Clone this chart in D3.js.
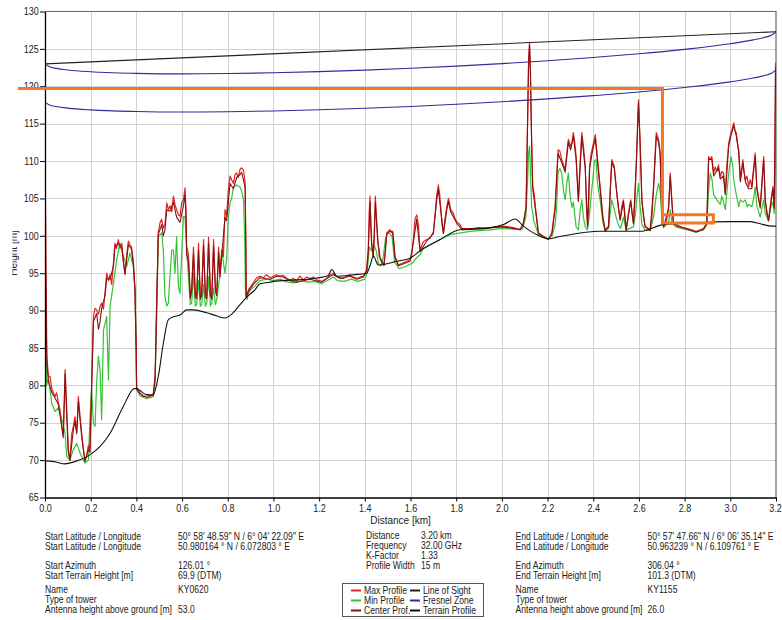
<!DOCTYPE html>
<html>
<head>
<meta charset="utf-8">
<script src="https://cdn.jsdelivr.net/npm/d3@7"></script>
<style>
  html, body { margin: 0; padding: 0; background: #fff; }
  svg { display: block; font-family: "Liberation Sans", Arial, sans-serif; }
</style>
</head>
<body>
<svg id="chart" width="782" height="620"></svg>
<script>
// ---- Axis ticks ----
const heightTicks = [65, 70, 75, 80, 85, 90, 95, 100, 105, 110, 115, 120, 125, 130];
const distanceTicks = [0, 0.2, 0.4, 0.6, 0.8, 1.0, 1.2, 1.4, 1.6, 1.8, 2.0, 2.2, 2.4, 2.6, 2.8, 3.0, 3.2];

// ---- Line of sight and Fresnel zone boundaries [km, m] ----
const lineOfSight = [[0, 123.0], [3.2, 127.29]];
const fresnelUpper = [[0,123.0],[0.02,122.6],[0.05,122.39],[0.1,122.18],[0.2,121.94],[0.4,121.73],[0.6,121.66],[0.8,121.7],[1.0,121.8],[1.2,121.96],[1.4,122.16],[1.6,122.4],[1.8,122.69],[2.0,123.03],[2.2,123.41],[2.4,123.85],[2.6,124.34],[2.8,124.94],[3.0,125.69],[3.1,126.2],[3.15,126.54],[3.18,126.83],[3.2,127.29]];
const fresnelLower = [[0,117.85],[0.02,117.5],[0.05,117.29],[0.1,117.08],[0.2,116.84],[0.4,116.63],[0.6,116.56],[0.8,116.6],[1.0,116.7],[1.2,116.86],[1.4,117.06],[1.6,117.3],[1.8,117.59],[2.0,117.93],[2.2,118.31],[2.4,118.75],[2.6,119.24],[2.8,119.84],[3.0,120.59],[3.1,121.1],[3.15,121.44],[3.18,121.73],[3.2,122.19]];

// ---- Terrain profile (DTM) [km, m] ----
const terrainProfile = [[0,69.9],[0.04,69.8],[0.088,69.5],[0.13,69.8],[0.197,70.7],[0.24,71.8],[0.285,73.6],[0.343,77.2],[0.387,79.5],[0.4,79.6],[0.416,79.3],[0.44,78.8],[0.473,78.7],[0.496,81.2],[0.518,85.6],[0.54,88.8],[0.565,89.2],[0.591,89.4],[0.62,90.1],[0.65,90.1],[0.708,89.7],[0.75,89.3],[0.788,89.0],[0.82,89.6],[0.854,90.8],[0.883,91.8],[0.92,92.8],[0.941,93.6],[0.985,93.8],[1.0,93.9],[1.1,94.1],[1.19,94.35],[1.24,94.7],[1.255,95.5],[1.277,94.6],[1.35,94.8],[1.408,95.0],[1.425,96.2],[1.437,97.3],[1.459,96.1],[1.54,96.6],[1.598,97.0],[1.642,98.0],[1.729,99.5],[1.817,100.8],[1.934,101.0],[2.007,101.5],[2.058,102.25],[2.094,101.3],[2.153,100.15],[2.204,99.6],[2.255,99.9],[2.43,100.6],[2.605,100.6],[2.707,101.5],[2.824,101.7],[3.0,101.9],[3.087,101.9],[3.144,101.5],[3.18,101.3],[3.2,101.3]];

// ---- Max profile (surface incl. vegetation / buildings) [km, m] ----
const maxProfile = [[0,85],[0.001,108],[0.004,98],[0.008,84],[0.015,81.2],[0.022,81.2],[0.03,79.5],[0.044,78.5],[0.051,79.0],[0.058,77.8],[0.066,76.7],[0.073,74.5],[0.08,73.5],[0.088,82.1],[0.095,77],[0.102,71.5],[0.109,70.0],[0.117,73.5],[0.124,74.5],[0.131,75.8],[0.139,73.8],[0.146,78.5],[0.153,76],[0.161,73.5],[0.168,71.5],[0.175,70.0],[0.182,70.5],[0.19,72],[0.197,71.5],[0.204,80.3],[0.212,89.2],[0.219,90.3],[0.226,90.1],[0.234,89.5],[0.241,90.5],[0.248,91.0],[0.256,90.2],[0.263,92.5],[0.27,95.0],[0.278,94.0],[0.285,94.8],[0.292,93.5],[0.3,96.5],[0.306,99.0],[0.313,98.3],[0.321,99.5],[0.328,98.3],[0.336,99.0],[0.343,96.5],[0.35,95.0],[0.358,97.5],[0.365,99.3],[0.372,98.8],[0.379,98.5],[0.387,96.5],[0.394,92.8],[0.399,85],[0.401,79.6],[0.416,78.9],[0.43,78.6],[0.445,78.4],[0.46,78.5],[0.474,78.9],[0.482,81.2],[0.489,91.5],[0.496,100.5],[0.504,101.8],[0.511,102.2],[0.518,101.0],[0.525,101.5],[0.533,104.4],[0.54,103.5],[0.547,104.0],[0.555,103.2],[0.562,105.3],[0.569,104.2],[0.576,103.5],[0.584,102.8],[0.591,102.6],[0.599,104.5],[0.606,104.8],[0.613,106.4],[0.617,103.5],[0.62,98.6],
[0.628,97.5],[0.636,92],[0.642,93],[0.65,98.5],[0.658,92.3],[0.664,92],[0.672,99],[0.68,91.9],[0.686,92.3],[0.694,99.5],[0.702,92.3],[0.708,92],[0.716,99.8],[0.724,92.5],[0.73,91.9],[0.738,99.5],[0.746,93],[0.752,92.5],[0.76,98.5],[0.766,95],[0.774,98.1],[0.781,97.2],[0.788,103.5],[0.795,102.6],[0.802,106],[0.81,108],[0.817,107.5],[0.825,107],[0.832,108.2],[0.839,108.4],[0.846,107.8],[0.854,108.9],[0.861,109.1],[0.869,108.8],[0.876,107.1],[0.879,100],[0.881,91.9],[0.891,92.8],
[0.912,93.7],[0.927,94.4],[0.941,94.6],[0.956,94.4],[0.97,94.8],[0.985,94.4],[1.0,94.6],[1.014,94.8],[1.029,94.6],[1.043,94.7],[1.058,94.3],[1.073,94.1],[1.087,94.3],[1.102,93.9],[1.116,94.6],[1.131,94.1],[1.145,94.5],[1.16,94.3],[1.175,94.5],[1.189,94.1],[1.211,93.9],[1.233,94.3],[1.248,94.8],[1.263,95.0],[1.277,94.6],[1.292,94.4],[1.306,94.3],[1.32,94.6],[1.335,94.8],[1.35,94.5],[1.365,94.3],[1.38,94.5],[1.394,94.6],[1.401,95.0],[1.408,95.5],[1.415,98.1],[1.419,103],[1.423,105.3],[1.427,101],[1.43,99.0],[1.437,97.3],[1.442,99.9],[1.446,105.3],[1.45,103],[1.456,99.9],[1.463,97.3],[1.474,96.4],[1.484,96.2],[1.49,98],[1.496,100.4],[1.508,100.8],[1.516,100.6],[1.522,100.6],[1.528,99],[1.532,97.3],[1.547,96.1],[1.569,96.4],[1.584,96.6],[1.598,96.8],[1.606,97.5],[1.613,99.7],[1.62,102.3],[1.627,102.8],[1.635,101.3],[1.642,98.1],
[1.656,99.2],[1.671,99.5],[1.686,99.7],[1.7,100.5],[1.708,103],[1.715,105.5],[1.722,106.8],[1.728,105.5],[1.732,103.9],[1.738,101.5],[1.744,100.4],[1.752,102.5],[1.759,103.9],[1.766,105.0],[1.771,104.3],[1.776,103.5],[1.788,103.0],[1.795,102.3],[1.802,101.9],[1.817,101.5],[1.824,101.0],[1.861,100.9],[1.9,101.1],[1.934,101.0],[1.97,101.2],[2.007,101.3],[2.03,101.2],[2.051,101.1],[2.08,100.8],[2.094,101.7],[2.106,103.9],[2.112,114.6],[2.117,123.6],[2.121,125.8],[2.125,122.2],[2.13,113.3],[2.135,106.6],[2.141,105.7],[2.15,103],[2.16,100.4],[2.182,99.9],[2.204,99.5],[2.219,100.4],[2.233,103.9],
[2.24,108],[2.246,111.5],[2.254,111.3],[2.262,110.2],[2.27,109.5],[2.277,108.9],[2.284,111],[2.291,112.9],[2.301,112.0],[2.307,112.5],[2.313,113.8],[2.319,112.5],[2.325,110.6],[2.335,104.8],[2.343,110.2],[2.35,113.8],[2.357,112],[2.365,109.3],[2.37,104],[2.375,101.3],[2.38,104],[2.384,109.3],[2.391,111],[2.398,112.0],[2.409,113.5],[2.419,110.2],[2.43,106.6],[2.442,102.6],[2.452,100.8],[2.467,101.3],[2.474,106],[2.481,110.2],[2.492,109.3],[2.5,106.6],[2.51,103.9],[2.518,102.2],[2.525,104],[2.532,104.8],[2.538,103],[2.544,100.8],[2.554,103],[2.564,104.8],[2.57,103],[2.576,101.7],[2.583,105],[2.59,111.1],[2.594,115],[2.598,118.2],[2.602,115],[2.605,112.9],[2.613,104.8],[2.62,102.5],[2.627,101.3],[2.649,100.8],[2.657,102.5],[2.664,106.6],[2.67,110.5],[2.676,113.8],[2.686,112.9],[2.693,111.1],[2.7,103],[2.708,101.3],[2.715,101.5],[2.722,102.2],[2.73,103.9],[2.737,108.4],[2.744,104.8],[2.751,101.7],[2.766,101.3],[2.79,101.1],[2.82,100.9],[2.85,100.6],[2.87,100.8],[2.883,101.0],[2.897,101.7],[2.901,106],[2.905,110.6],[2.912,110.2],[2.919,110.6],[2.927,108.4],[2.934,109.2],[2.941,108.6],[2.948,109.5],[2.956,107.9],[2.963,108.6],[2.97,108.4],[2.978,105.7],[2.985,109.5],[2.993,112.4],[3.003,113.8],[3.01,114.5],[3.015,115.1],[3.02,114.2],[3.026,113.8],[3.031,112.5],[3.037,111.5],[3.044,107.5],[3.05,109],[3.055,110.2],[3.06,108.5],[3.066,107.5],[3.073,108],[3.08,106.6],[3.087,107.5],[3.094,106.6],[3.1,108.5],[3.109,111.1],[3.116,106.6],[3.124,105],[3.131,103.9],[3.138,107],[3.146,110.6],[3.153,104.8],[3.16,103],[3.167,102.1],[3.173,103.5],[3.178,104.8],[3.187,106.6],[3.192,103.9],[3.196,110],[3.198,123.1],[3.2,120]];

// ---- Min profile [km, m] ----
const minProfile = [[0,92],[0.003,88],[0.007,80],[0.015,81.0],[0.03,77.5],[0.044,76.5],[0.058,77.0],[0.073,75.5],[0.088,73.6],[0.095,70.5],[0.109,70.0],[0.124,71.4],[0.139,72.2],[0.153,71.0],[0.175,69.6],[0.19,70.0],[0.197,75.8],[0.204,79.4],[0.212,74.9],[0.219,74.5],[0.226,80.3],[0.234,83.9],[0.241,82.1],[0.248,75.4],[0.256,87.4],[0.263,88.3],[0.27,89.2],[0.278,80.7],[0.285,90.6],[0.3,93.7],[0.314,96.8],[0.328,99.0],[0.343,97.3],[0.358,95.9],[0.372,97.7],[0.387,95.9],[0.394,92.8],[0.399,85],[0.401,79.4],[0.416,78.6],[0.445,78.2],[0.474,78.5],[0.482,80.3],[0.489,89.2],[0.496,99.9],[0.511,100.4],[0.518,98.1],[0.525,91.9],[0.533,90.6],[0.54,91.0],[0.547,94.6],[0.555,98.1],[0.562,98.1],[0.569,95.0],[0.576,99.9],[0.584,93.2],[0.591,92.3],[0.599,98.1],[0.606,102.6],[0.613,102.6],[0.62,98.1],
[0.628,94.6],[0.636,90.8],[0.642,91.0],[0.65,95],[0.658,90.6],[0.664,90.8],[0.672,94],[0.68,90.6],[0.686,90.8],[0.694,93.5],[0.702,90.6],[0.708,91],[0.716,94.5],[0.724,90.6],[0.73,91.0],[0.738,93],[0.746,90.8],[0.752,91.5],[0.76,93.5],[0.766,94.6],[0.774,98.1],[0.781,96.4],[0.788,95.0],[0.795,96.8],[0.802,102.2],[0.81,104.5],[0.817,105],[0.825,106.5],[0.839,106.8],[0.854,106.5],[0.861,106],[0.869,104.8],[0.874,100],[0.878,92],[0.885,91.5],[0.891,92.3],
[0.9,92.8],[0.92,93.3],[0.941,94.0],[0.97,94.2],[1.0,94.0],[1.03,94.2],[1.06,93.8],[1.09,93.7],[1.12,94.0],[1.15,93.8],[1.18,93.9],[1.21,93.6],[1.24,94.1],[1.263,94.5],[1.28,94.0],[1.31,93.9],[1.34,94.2],[1.37,93.9],[1.4,94.2],[1.41,95],[1.42,98.5],[1.43,98],[1.44,98.8],[1.45,98],[1.46,96.3],[1.47,96.0],[1.48,97],[1.49,99.5],[1.5,100.4],[1.51,100.3],[1.52,99.8],[1.53,96.5],[1.55,95.6],[1.58,95.9],[1.61,96.4],[1.625,97],[1.642,97.5],
[1.656,98.3],[1.686,98.8],[1.72,99.3],[1.75,99.8],[1.78,100.2],[1.82,100.4],[1.86,100.6],[1.9,100.7],[1.95,100.8],[2.0,101.0],[2.05,100.9],[2.09,100.9],[2.105,102.5],[2.112,107],[2.117,111],[2.121,112],[2.125,109],[2.13,104],[2.14,102],[2.16,100.2],[2.2,99.6],[2.22,100.0],[2.233,101.5],
[2.24,104],[2.246,108.5],[2.254,109],[2.262,108.4],[2.27,106],[2.277,104.8],[2.284,107],[2.291,108.4],[2.3,105],[2.307,103.8],[2.313,104.5],[2.32,102.5],[2.325,101.2],[2.335,100.8],[2.343,103.5],[2.35,104.8],[2.357,102.5],[2.365,101.2],[2.375,100.8],[2.384,103],[2.391,105.5],[2.398,107.5],[2.405,110],[2.412,110.2],[2.419,107],[2.43,104.8],[2.442,101.9],[2.452,100.6],[2.467,101],[2.474,103],[2.481,104.8],[2.492,103.5],[2.5,102.5],[2.51,101.5],[2.52,101],[2.532,102.5],[2.544,100.8],[2.56,101],[2.576,101.2],[2.585,103],[2.59,104.8],[2.598,107],[2.605,104],[2.613,101.5],[2.627,100.8],[2.649,100.7],[2.664,102.5],[2.676,105.5],[2.686,107],[2.693,106],[2.7,102.5],[2.708,101.1],[2.73,101.8],[2.737,103.5],[2.744,101.9],[2.76,101.2],[2.8,100.9],[2.85,100.5],[2.883,100.8],[2.897,101.5],[2.905,106],[2.912,108.4],[2.92,107.5],[2.927,105.5],[2.941,104.8],[2.956,104.2],[2.963,105.3],[2.97,104.5],[2.978,103.5],[2.993,108.4],[3.003,110.6],[3.01,109.5],[3.015,107.5],[3.026,105.5],[3.037,103.9],[3.044,104.8],[3.055,104.5],[3.066,104.8],[3.073,103.9],[3.08,104.2],[3.094,103.9],[3.102,105],[3.109,106.5],[3.116,104],[3.131,102.5],[3.146,104.8],[3.153,103],[3.167,102],[3.178,103.9],[3.187,104.5],[3.192,103],[3.196,108],[3.2,116]];

// ---- Center profile [km, m] ----
const centerProfile = [[0,84],[0.001,98],[0.005,90],[0.008,83],[0.015,80.5],[0.03,79],[0.044,78.3],[0.058,77.5],[0.066,76],[0.08,73],[0.088,81.5],[0.095,76],[0.102,71],[0.109,70],[0.124,74],[0.131,75.2],[0.139,73.5],[0.146,77.8],[0.161,73],[0.175,69.8],[0.19,71.5],[0.197,71],[0.204,79],[0.212,88.5],[0.226,89.6],[0.234,87.5],[0.241,88.5],[0.248,90.3],[0.263,92],[0.27,94.3],[0.285,94.2],[0.3,96],[0.306,98.5],[0.321,99],[0.336,98.5],[0.35,94.8],[0.365,98.8],[0.379,98.2],[0.387,96],[0.394,92.5],[0.399,85],[0.401,79.5],[0.43,78.5],[0.474,78.7],[0.482,81],[0.489,91],[0.496,100.2],[0.511,101.5],[0.518,100],[0.525,100.8],[0.533,103.5],[0.547,103.3],[0.562,104.5],[0.576,102.5],[0.591,101.8],[0.606,104],[0.613,105.5],[0.617,103],[0.62,97.5],
[0.628,96.5],[0.636,91.6],[0.642,92.5],[0.65,97.5],[0.658,91.8],[0.664,91.6],[0.672,98],[0.68,91.5],[0.686,92],[0.694,98.7],[0.702,91.8],[0.708,91.6],[0.716,99],[0.724,92],[0.73,91.5],[0.738,98.6],[0.746,92.5],[0.752,92],[0.76,97.8],[0.766,94.5],[0.774,97.5],[0.788,102.5],[0.795,102],[0.81,107],[0.825,106.3],[0.839,107.8],[0.854,108.2],[0.861,108.5],[0.876,106.5],[0.879,99],[0.881,91.8],[0.891,92.6],
[0.912,93.5],[0.941,94.4],[0.985,94.2],[1.014,94.6],[1.043,94.5],[1.073,94.0],[1.102,93.8],[1.131,94.0],[1.16,94.2],[1.211,93.8],[1.248,94.6],[1.263,94.8],[1.292,94.3],[1.335,94.6],[1.365,94.2],[1.394,94.5],[1.408,95.3],[1.415,97.8],[1.423,104.5],[1.43,98.8],[1.437,97.1],[1.446,104.5],[1.456,99.5],[1.467,97.1],[1.484,96],[1.496,100.2],[1.508,100.6],[1.522,100.4],[1.532,97.1],[1.547,96],[1.598,96.6],[1.613,99.2],[1.627,102.2],[1.642,97.9],
[1.671,99.3],[1.7,100.3],[1.715,104.8],[1.722,106.2],[1.732,103.5],[1.744,100.3],[1.759,103.5],[1.766,104.6],[1.776,103.2],[1.802,101.7],[1.824,100.9],[1.9,101.0],[2.007,101.2],[2.08,100.8],[2.094,101.6],[2.106,103.7],[2.112,114],[2.117,123],[2.121,125.5],[2.125,121.5],[2.13,112.8],[2.135,106.3],[2.15,102.8],[2.16,100.3],[2.204,99.5],[2.219,100.3],[2.233,103.6],
[2.246,111],[2.262,109.8],[2.277,108.5],[2.291,112.5],[2.301,111.5],[2.313,113.3],[2.325,110.2],[2.335,104.6],[2.35,113.3],[2.365,109],[2.375,101.2],[2.384,109],[2.398,111.6],[2.409,113.0],[2.419,109.8],[2.43,106.3],[2.442,102.4],[2.452,100.7],[2.467,101.2],[2.481,109.8],[2.492,109],[2.51,103.7],[2.518,102.1],[2.532,104.6],[2.544,100.7],[2.564,104.6],[2.576,101.6],[2.59,110.7],[2.598,117.8],[2.605,112.5],[2.613,104.6],[2.627,101.2],[2.649,100.7],[2.664,106.3],[2.676,113.3],[2.686,112.5],[2.693,110.8],[2.7,102.9],[2.708,101.2],[2.73,103.7],[2.737,108],[2.744,104.6],[2.751,101.6],[2.8,101.0],[2.85,100.5],[2.883,100.9],[2.897,101.6],[2.905,110.2],[2.919,110.2],[2.927,108],[2.948,109.1],[2.956,107.6],[2.97,108],[2.978,105.5],[2.993,112],[3.003,113.4],[3.015,114.7],[3.026,113.4],[3.037,111.1],[3.044,107.2],[3.055,109.8],[3.066,107.2],[3.08,106.3],[3.094,106.3],[3.109,110.7],[3.116,106.3],[3.131,103.7],[3.146,110.2],[3.153,104.6],[3.167,102],[3.187,106.3],[3.192,103.7],[3.198,122.5],[3.2,118]];

// ---- Highlight markup (orange) [km, m] ----
const obstructionLine = [[-0.118, 119.7], [2.703, 119.7], [2.703, 102.8]];
const obstructionBox = [[2.703, 102.8], [2.926, 102.8], [2.926, 101.7], [2.703, 101.7], [2.703, 102.8]];

// ---- Legend ----
const legendItems = [
  { label: "Max Profile", color: "#e02424" },
  { label: "Min Profile", color: "#33c433" },
  { label: "Center Prof.", color: "#8a1010" },
  { label: "Line of Sight", color: "#222222" },
  { label: "Fresnel Zone", color: "#2d2d9e" },
  { label: "Terrain Profile", color: "#111111" }
];

// ---- Link parameters ----
const startLabels = ["Start Latitude / Longitude", "Start Latitude / Longitude", "Start Azimuth", "Start Terrain Height [m]", "Name", "Type of tower", "Antenna height above ground [m]"];
const startValues = ["50° 58' 48.59\" N / 6° 04' 22.09\" E", "50.980164 ° N / 6.072803 ° E", "126.01 °", "69.9 (DTM)", "KY0620", "", "53.0"];
const endLabels = ["End Latitude / Longitude", "End Latitude / Longitude", "End Azimuth", "End Terrain Height [m]", "Name", "Type of tower", "Antenna height above ground [m]"];
const endValues = ["50° 57' 47.66\" N / 6° 06' 35.14\" E", "50.963239 ° N / 6.109761 ° E", "306.04 °", "101.3 (DTM)", "KY1155", "", "26.0"];
const linkLabels = ["Distance", "Frequency", "K-Factor", "Profile Width"];
const linkValues = ["3.20 km", "32.00 GHz", "1.33", "15 m"];

// ================= drawing =================
const svg = d3.select("#chart");
const plot = { left: 45, right: 776, top: 11.5, bottom: 497.5 };

const x = d3.scaleLinear().domain([0, 3.2]).range([plot.left, plot.right]);
const y = d3.scaleLinear().domain([65, 130]).range([plot.bottom, plot.top]);

const defs = svg.append("defs");
defs.append("clipPath").attr("id", "plotClip")
  .append("rect").attr("x", plot.left).attr("y", plot.top)
  .attr("width", plot.right - plot.left).attr("height", plot.bottom - plot.top);
defs.append("clipPath").attr("id", "labelClip")
  .append("rect").attr("x", 12.5).attr("y", 0).attr("width", 40).attr("height", 620);

// grid
const grid = svg.append("g").attr("stroke", "#d2d2d2").attr("stroke-width", 1);
grid.selectAll("line.v").data(distanceTicks.slice(1, -1)).join("line")
  .attr("x1", d => Math.round(x(d)) + 0.5).attr("x2", d => Math.round(x(d)) + 0.5)
  .attr("y1", plot.top).attr("y2", plot.bottom);
grid.selectAll("line.h").data(heightTicks.slice(1, -1)).join("line")
  .attr("y1", d => Math.round(y(d)) + 0.5).attr("y2", d => Math.round(y(d)) + 0.5)
  .attr("x1", plot.left).attr("x2", plot.right);

// frame (top / right)
svg.append("path")
  .attr("d", `M${plot.left},${plot.top}H${plot.right}V${plot.bottom}`)
  .attr("fill", "none").attr("stroke", "#6a6a6a").attr("stroke-width", 1.2);

// data lines
const line = d3.line().x(d => x(d[0])).y(d => y(d[1]));
const smoothLine = d3.line().x(d => x(d[0])).y(d => y(d[1])).curve(d3.curveMonotoneX);

const g = svg.append("g").attr("clip-path", "url(#plotClip)").attr("fill", "none");

g.append("path").datum(fresnelUpper).attr("d", smoothLine)
  .attr("stroke", "#2d2d9e").attr("stroke-width", 1.1);
g.append("path").datum(fresnelLower).attr("d", smoothLine)
  .attr("stroke", "#2d2d9e").attr("stroke-width", 1.1);
g.append("path").datum(lineOfSight).attr("d", line)
  .attr("stroke", "#222").attr("stroke-width", 1.1);

g.append("path").datum(minProfile).attr("d", line)
  .attr("stroke", "#33c433").attr("stroke-width", 1.2).attr("stroke-linejoin", "round");
g.append("path").datum(maxProfile).attr("d", line)
  .attr("stroke", "#e02424").attr("stroke-width", 1.2).attr("stroke-linejoin", "round");
g.append("path").datum(centerProfile).attr("d", line)
  .attr("stroke", "#8a1010").attr("stroke-width", 1.1).attr("stroke-linejoin", "round");
g.append("path").datum(terrainProfile).attr("d", smoothLine)
  .attr("stroke", "#111").attr("stroke-width", 1.1);

// axes
const yAxis = d3.axisLeft(y).tickValues(heightTicks).tickFormat(d3.format("d"))
  .tickSize(5).tickSizeOuter(0).tickPadding(2);
const xAxis = d3.axisBottom(x).tickValues(distanceTicks).tickFormat(d3.format(".1f"))
  .tickSize(4).tickSizeOuter(0).tickPadding(3);

const ya = svg.append("g").attr("transform", `translate(${plot.left},0)`).call(yAxis);
const xa = svg.append("g").attr("transform", `translate(0,${plot.bottom})`).call(xAxis);
[ya, xa].forEach(a => {
  a.select(".domain").attr("stroke", "#000").attr("stroke-width", 1.3);
  a.selectAll(".tick line").attr("stroke", "#000");
  a.selectAll(".tick text").attr("fill", "#222").attr("font-size", 10)
    .attr("font-family", "\"Liberation Sans\", Arial, sans-serif")
    .attr("transform", "scale(0.9,1)");
});
// keep the last distance label inside the window
xa.selectAll(".tick text").filter(d => d === 3.2).attr("transform", "translate(-1,0) scale(0.9,1)");

// axis titles
svg.append("text").attr("x", x(1.6) - 10).attr("y", 523.5)
  .attr("text-anchor", "middle").attr("font-size", 10).attr("fill", "#222")
  .text("Distance [km]");
svg.append("g").attr("clip-path", "url(#labelClip)")
  .append("text").attr("transform", "translate(17,253) rotate(-90)")
  .attr("text-anchor", "middle").attr("font-size", 10).attr("fill", "#222")
  .text("Height [m]");

// orange highlight
const orange = svg.append("g").attr("fill", "none").attr("stroke", "#f07826")
  .attr("stroke-width", 3).attr("stroke-linejoin", "miter");
orange.append("path").datum(obstructionLine).attr("d", line);
orange.append("path").datum(obstructionBox).attr("d", line);

// info text block
const info = svg.append("g").attr("fill", "#222").attr("font-size", 10);
function put(px, py, s) {
  if (!s) return;
  info.append("text").attr("transform", `translate(${px},${py}) scale(0.86,1)`).text(s);
}
const sideRows = [540, 549.5, 569, 579, 593, 603, 613];
startLabels.forEach((s, i) => put(45, sideRows[i], s));
startValues.forEach((s, i) => put(178, sideRows[i], s));
endLabels.forEach((s, i) => put(515.5, sideRows[i], s));
endValues.forEach((s, i) => put(647.5, sideRows[i], s));
const midRows = [539, 549, 559, 569];
linkLabels.forEach((s, i) => put(366, midRows[i], s));
linkValues.forEach((s, i) => put(421, midRows[i], s));

// legend
const lg = svg.append("g");
lg.append("rect").attr("x", 342.5).attr("y", 583.5).attr("width", 141).attr("height", 33)
  .attr("fill", "#fff").attr("stroke", "#555").attr("stroke-width", 1);
legendItems.forEach((it, i) => {
  const col = Math.floor(i / 3), row = i % 3;
  const lx = 351 + col * 59, ly = 590.5 + row * 10;
  lg.append("line").attr("x1", lx).attr("x2", lx + 10).attr("y1", ly).attr("y2", ly)
    .attr("stroke", it.color).attr("stroke-width", 2);
  lg.append("text").attr("transform", `translate(${lx + 13},${ly + 3.5}) scale(0.86,1)`)
    .attr("font-size", 10).attr("fill", "#222").text(it.label);
});
</script>
</body>
</html>
